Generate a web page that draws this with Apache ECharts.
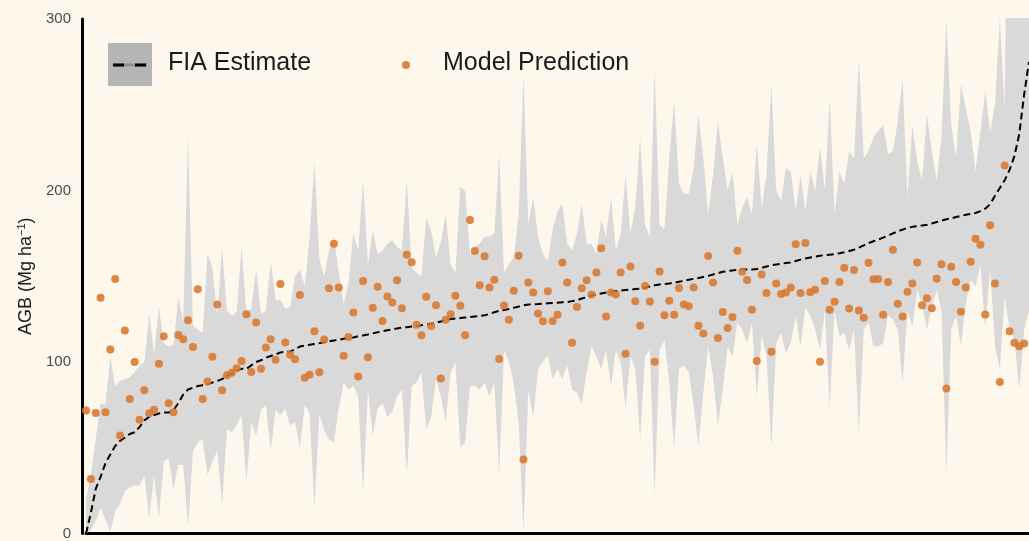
<!DOCTYPE html>
<html>
<head>
<meta charset="utf-8">
<script src="https://cdn.jsdelivr.net/npm/echarts@6/dist/echarts.min.js"></script>
<style>
html,body{margin:0;padding:0;background:#fdf7ec;}
#chart{width:1029px;height:541px;}
</style>
</head>
<body>
<div id="chart"></div>
<script>
// Sorted plots (rank order). FIA estimate (dashed line), its band, and model predictions.
var fiaEstimate = [
  0, 12, 26, 33, 41, 46, 51, 54, 56, 58,
  59, 62, 66, 68, 69, 70, 70.5, 70.5, 72, 76,
  81, 84, 85, 86, 86.5, 87, 88, 89, 90, 92,
  93, 95, 96, 96, 98, 100, 101, 102.5, 103.5, 104.5,
  105.5, 106, 106, 107.5, 109, 109.5, 110, 110.5, 111, 111.5,
  112, 112.5, 113, 113.5, 114, 114.3, 115, 115.5, 116, 116.7,
  117.3, 118, 118.5, 119, 119.6, 120, 120.3, 120.7, 121, 121.4,
  121.8, 122.3, 122.9, 123.6, 124.3, 125, 125.3, 125.6, 125.9, 126.2,
  126.5, 126.8, 127.2, 128, 129, 129.8, 130.3, 130.9, 131.6, 132.3,
  133, 133.5, 133.7, 133.8, 134, 134.2, 134.4, 134.6, 134.8, 135,
  135.5, 136, 137, 137.8, 138.7, 139.5, 140, 140.5, 141, 141.4,
  141.6, 142, 142.2, 142.5, 142.8, 143.3, 144, 144.7, 145.2, 145.5,
  145.8, 146.2, 146.8, 147.3, 147.9, 148.5, 149, 149.6, 150.2, 151,
  151.8, 152.6, 153, 153.4, 153.8, 154, 154, 154, 154.2, 154.9,
  155.7, 156.4, 156.9, 157.3, 157.7, 158.1, 158.9, 159.7, 160.3, 160.9,
  161.5, 162, 162.3, 162.6, 162.9, 163.4, 164, 164.7, 165.5, 166.7,
  168, 169.4, 170.4, 171.4, 172.5, 173.7, 175, 176.2, 177.2, 178.2,
  178.8, 179.2, 179.6, 180, 180.8, 181.6, 182.4, 183.2, 183.8, 184.5,
  185.2, 185.8, 186.3, 186.9, 188, 189.4, 192, 197, 201.5, 206,
  212, 220, 233, 256, 275
];
var fiaUpper = [
  20, 34, 55, 76, 75, 103, 86, 89, 90, 91,
  94, 98, 100, 128, 105, 132, 111, 109, 110, 138,
  123, 231, 121, 119, 117, 163, 155, 127, 166, 130,
  127, 129, 167, 129, 131, 154, 128, 130, 159, 136,
  136, 131, 132, 150, 154, 144, 173, 217, 160, 150,
  165, 173, 152, 134, 146, 175, 165, 206, 157, 177,
  163, 165, 169, 171, 167, 165, 206, 155, 152, 150,
  184, 177, 161, 170, 186, 157, 152, 202, 200, 163,
  167, 169, 173, 173, 175, 221, 152, 157, 161, 186,
  268, 180, 196, 173, 163, 159, 177, 188, 192, 169,
  165, 175, 192, 169, 169, 163, 183, 173, 196, 165,
  175, 209, 175, 190, 231, 180, 173, 271, 180, 177,
  219, 252, 204, 198, 198, 213, 244, 219, 186, 209,
  240, 219, 200, 211, 180, 190, 196, 186, 227, 190,
  209, 262, 200, 194, 213, 211, 188, 209, 188, 211,
  200, 225, 200, 254, 186, 211, 204, 223, 219, 277,
  219, 223, 231, 235, 238, 221, 223, 240, 265, 196,
  238, 217, 206, 244, 223, 206, 231, 300, 238, 219,
  262, 248, 234, 211, 234, 258, 234, 250, 300, 248,
  520, 520, 520, 520, 520
];
var fiaLower = [
  0, 2, 7, 15, 8, 1, 13, 17, 25, 27,
  28, 28, 34, 9, 34, 9, 42, 44, 26, 40,
  40, 4, 48, 53, 55, 34, 42, 48, 17, 61,
  59, 63, 69, 30, 65, 57, 72, 75, 48, 72,
  69, 73, 63, 65, 50, 75, 70, 15, 70, 60,
  55, 53, 73, 88, 84, 86, 80, 24, 84, 57,
  73, 76, 68, 71, 80, 84, 34, 86, 88, 94,
  61, 68, 90, 80, 65, 94, 100, 50, 53, 86,
  86, 84, 88, 80, 88, 34, 107, 100, 88, 65,
  1, 84, 68, 96, 100, 104, 90, 96, 90, 98,
  84, 82, 76, 94, 109, 103, 96, 107, 86, 107,
  100, 73, 103, 96, 55, 103, 107, 22, 107, 113,
  88, 50, 96, 98, 94, 75, 51, 82, 109, 92,
  63, 84, 109, 103, 123, 119, 111, 123, 80, 115,
  104, 50, 111, 117, 105, 111, 127, 109, 132, 127,
  119, 107, 130, 73, 130, 115, 117, 107, 119, 59,
  119, 123, 109, 109, 111, 127, 125, 119, 88, 130,
  121, 142, 134, 119, 132, 142, 130, 35, 119, 127,
  109, 134, 148, 144, 157, 119, 155, 109, 96, 138,
  119, 113, 84, 119, 130
];
var modelPrediction = [
  71.7, 31.8, 70.3, 137.4, 70.7, 107.3, 148.4, 57.2, 118.3, 78.4,
  100, 66.3, 83.6, 70.1, 72.1, 99, 115, 75.9, 70.7, 115.8,
  113.3, 124.3, 108.8, 142.4, 78.4, 88.6, 103.1, 133.5, 83.6, 92.3,
  93.8, 96.3, 100.6, 127.9, 94.2, 123.1, 96.1, 108.5, 113.3, 101.3,
  145.5, 111.4, 104.2, 101.6, 139.1, 90.8, 92.5, 117.9, 94, 113.1,
  143, 169, 143.4, 103.7, 114.6, 128.9, 91.5, 147.2, 102.7, 131.6,
  143.9, 123.9, 138.2, 134.7, 147.6, 131.4, 162.6, 158.2, 121.7, 115.6,
  138, 121, 133.1, 90.4, 124.7, 127.9, 138.7, 132.8, 115.6, 182.8,
  164.7, 144.7, 161.7, 143.5, 148, 101.7, 133, 124.7, 141.6, 162,
  43.2, 146.4, 140.5, 128.3, 123.7, 141.2, 123.9, 127.6, 158, 146.4,
  111.2, 132, 143, 147.6, 139.3, 152.2, 166.3, 126.6, 140.5, 139.3,
  152.2, 104.8, 155.7, 135.4, 121.2, 144.3, 135.3, 100.2, 152.8, 127.2,
  135.7, 127.6, 143.2, 133.5, 132.5, 143.4, 121.2, 116.6, 161.8, 146.4,
  114, 129.1, 119.8, 126.2, 164.9, 152.6, 147.8, 130.4, 100.6, 151,
  140.3, 106, 145.8, 139.7, 140.5, 143.4, 168.6, 140.3, 169.4, 140.6,
  142.2, 100.2, 147.2, 130.4, 135.1, 146.6, 154.9, 131.2, 153.6, 130,
  125.8, 157.8, 148.2, 148.4, 127.6, 146.6, 165.5, 133.9, 126.6, 141,
  145.8, 158, 133.1, 137.2, 131.4, 148.6, 157, 84.6, 155.5, 146.6,
  129.3, 143.4, 158.4, 171.9, 168.4, 127.7, 179.8, 145.8, 88.3, 214.6,
  117.9, 111.2, 109.2, 110.8, null
];
var yTicks = [0, 100, 200, 300];
var legendNames = ['FIA Estimate', 'Model Prediction'];

// plot rank categories (one per plot)
var plotRank = fiaEstimate.map(function (_, i) { return String(i + 1); });
var bandWidth = fiaUpper.map(function (u, i) { return u - fiaLower[i]; });

var chart = echarts.init(document.getElementById('chart'), null, {renderer: 'canvas'});
var orange = '#d9782d';
chart.setOption({
  backgroundColor: '#fdf7ec',
  animation: false,
  grid: {left: 86, width: 946, top: 19, height: 520, containLabel: false},
  xAxis: {
    type: 'category', data: plotRank, boundaryGap: false,
    axisLine: {show: true, onZero: false, lineStyle: {color: '#000', width: 3}},
    axisTick: {show: false}, axisLabel: {show: false}, splitLine: {show: false}
  },
  yAxis: {
    type: 'value', min: yTicks[0], max: yTicks[yTicks.length - 1], interval: 100,
    offset: 4,
    axisLine: {show: true, onZero: false, lineStyle: {color: '#000', width: 3}},
    axisTick: {show: false},
    splitLine: {show: false},
    axisLabel: {color: '#4d4d4d', fontSize: 15, margin: 11, fontFamily: 'Liberation Sans'},
    name: 'AGB (Mg ha{sup|−1})',
    nameLocation: 'middle', nameRotate: 90, nameGap: 42,
    nameTextStyle: {color: '#1a1a1a', fontSize: 18, fontFamily: 'Liberation Sans',
      rich: {sup: {fontSize: 11, color: '#1a1a1a', fontFamily: 'Liberation Sans', padding: [0, 0, 9, 0], verticalAlign: 'bottom'}}}
  },
  series: [
    {
      name: 'bandLower', type: 'line', stack: 'band', data: fiaLower,
      symbol: 'none', lineStyle: {opacity: 0}, silent: true, z: 1
    },
    {
      name: 'bandRange', type: 'line', stack: 'band', data: bandWidth,
      symbol: 'none', lineStyle: {opacity: 0},
      areaStyle: {color: '#d9d9d9', opacity: 1}, silent: true, z: 1
    },
    {
      name: legendNames[0], type: 'line', data: fiaEstimate,
      symbol: 'none', lineStyle: {color: '#000', width: 2, type: [7, 4]}, z: 3
    },
    {
      name: legendNames[1], type: 'scatter', data: modelPrediction,
      symbolSize: 8, itemStyle: {color: orange, opacity: 0.88}, z: 4
    }
  ],
  graphic: [
    {type: 'rect', left: 108, top: 43, shape: {width: 44, height: 43}, style: {fill: '#b5b5b5'}},
    {type: 'line', shape: {x1: 113, y1: 65, x2: 147, y2: 65}, style: {stroke: '#8f8f8f', lineWidth: 3}},
    {type: 'line', shape: {x1: 113, y1: 65, x2: 147, y2: 65}, style: {stroke: '#000', lineWidth: 3, lineDash: [11, 11]}},
    {type: 'text', left: 168, top: 51, style: {text: legendNames[0], fill: '#1a1a1a', font: '25px "Liberation Sans"'}},
    {type: 'circle', shape: {cx: 406, cy: 65, r: 4}, style: {fill: orange, opacity: 0.88}},
    {type: 'text', left: 443, top: 51, style: {text: legendNames[1], fill: '#1a1a1a', font: '25px "Liberation Sans"'}}
  ]
});
</script>
</body>
</html>
